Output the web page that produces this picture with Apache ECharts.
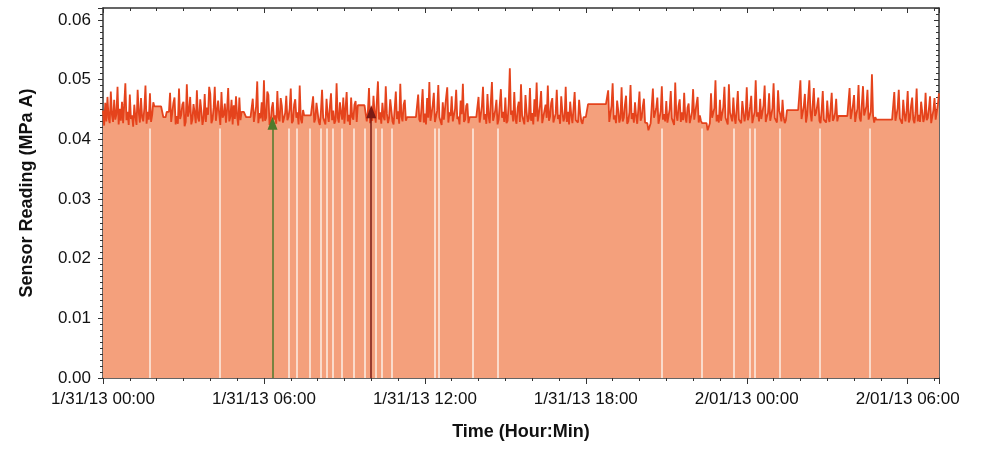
<!DOCTYPE html>
<html>
<head>
<meta charset="utf-8">
<script src="https://cdn.jsdelivr.net/npm/echarts@6/dist/echarts.min.js"></script>
<style>
html,body{margin:0;padding:0;background:#fff;}
#chart{width:997px;height:453px;}
</style>
</head>
<body>
<div id="chart"></div>
<script>
// ---- data ----
const startHour = 0;          // 1/31/13 00:00
const stepMinutes = 2.5;      // sampling step of the readings below
const endHour = 31.1667;      // 2/01/13 07:10
const tickLabels = ["1/31/13 00:00","1/31/13 06:00","1/31/13 12:00","1/31/13 18:00","2/01/13 00:00","2/01/13 06:00"];
const yTickValues = [0.00,0.01,0.02,0.03,0.04,0.05,0.06];

// one row per hour (24 readings per hour)
const readings = [
 0.0448,0.0423,0.0461,0.0430,0.0471,0.0436, 0.0427,0.0480,0.0441,0.0429,0.0466,0.0433, 0.0442,0.0488,0.0425,0.0451,0.0431,0.0463, 0.0427,0.0458,0.0494,0.0432,0.0446,0.0424,
 0.0475,0.0434,0.0440,0.0421,0.0458,0.0437, 0.0424,0.0483,0.0445,0.0428,0.0469,0.0437, 0.0430,0.0452,0.0490,0.0426,0.0446,0.0433, 0.0477,0.0429,0.0441,0.0462,0.0455,0.0455,
 0.0455,0.0455,0.0455,0.0455,0.0455,0.0455, 0.0437,0.0437,0.0437,0.0446,0.0446,0.0446, 0.0478,0.0429,0.0432,0.0461,0.0470,0.0425, 0.0439,0.0426,0.0485,0.0434,0.0441,0.0458,
 0.0463,0.0422,0.0429,0.0492,0.0438,0.0447, 0.0471,0.0425,0.0433,0.0459,0.0444,0.0427, 0.0482,0.0436,0.0430,0.0467,0.0448,0.0424, 0.0435,0.0476,0.0429,0.0453,0.0441,0.0488,
 0.0476,0.0427,0.0433,0.0453,0.0488,0.0431, 0.0433,0.0465,0.0442,0.0424,0.0479,0.0436, 0.0441,0.0460,0.0428,0.0450,0.0486,0.0430, 0.0438,0.0466,0.0425,0.0457,0.0434,0.0472,
 0.0439,0.0423,0.0470,0.0432,0.0446,0.0446, 0.0446,0.0446,0.0437,0.0437,0.0437,0.0437, 0.0437,0.0437,0.0468,0.0429,0.0432,0.0455, 0.0497,0.0427,0.0444,0.0435,0.0462,0.0430,
 0.0499,0.0431,0.0436,0.0480,0.0474,0.0424, 0.0428,0.0452,0.0462,0.0433,0.0440,0.0426, 0.0481,0.0437,0.0430,0.0469,0.0456,0.0428, 0.0426,0.0444,0.0473,0.0432,0.0438,0.0451,
 0.0485,0.0427,0.0431,0.0458,0.0467,0.0436, 0.0445,0.0425,0.0490,0.0434,0.0427,0.0449, 0.0440,0.0440,0.0440,0.0440,0.0440,0.0440, 0.0440,0.0440,0.0472,0.0428,0.0435,0.0461,
 0.0459,0.0430,0.0424,0.0447,0.0483,0.0436, 0.0439,0.0425,0.0468,0.0441,0.0429,0.0455, 0.0477,0.0432,0.0448,0.0426,0.0431,0.0494, 0.0437,0.0428,0.0462,0.0444,0.0433,0.0470,
 0.0426,0.0451,0.0479,0.0430,0.0441,0.0424, 0.0470,0.0437,0.0433,0.0458,0.0464,0.0429, 0.0457,0.0457,0.0457,0.0457,0.0457,0.0457, 0.0457,0.0457,0.0430,0.0446,0.0486,0.0427,
 0.0440,0.0431,0.0473,0.0445,0.0428,0.0463, 0.0497,0.0433,0.0445,0.0426,0.0461,0.0438, 0.0432,0.0489,0.0443,0.0427,0.0436,0.0467, 0.0468,0.0430,0.0425,0.0452,0.0480,0.0434,
 0.0447,0.0426,0.0493,0.0438,0.0430,0.0458, 0.0466,0.0431,0.0437,0.0437,0.0437,0.0437, 0.0437,0.0437,0.0437,0.0437,0.0437,0.0437, 0.0475,0.0433,0.0429,0.0454,0.0484,0.0428,
 0.0443,0.0425,0.0469,0.0436,0.0496,0.0431, 0.0434,0.0457,0.0478,0.0429,0.0426,0.0448, 0.0491,0.0437,0.0440,0.0424,0.0462,0.0433, 0.0431,0.0470,0.0487,0.0428,0.0445,0.0439,
 0.0472,0.0430,0.0428,0.0451,0.0483,0.0434, 0.0438,0.0425,0.0465,0.0442,0.0493,0.0429, 0.0433,0.0456,0.0460,0.0427,0.0437,0.0437, 0.0437,0.0437,0.0437,0.0437,0.0437,0.0437,
 0.0471,0.0428,0.0430,0.0455,0.0488,0.0433, 0.0442,0.0426,0.0476,0.0439,0.0427,0.0463, 0.0496,0.0431,0.0439,0.0449,0.0466,0.0425, 0.0433,0.0458,0.0484,0.0436,0.0446,0.0429,
 0.0470,0.0427,0.0431,0.0459,0.0519,0.0441, 0.0448,0.0430,0.0479,0.0434,0.0426,0.0452, 0.0463,0.0429,0.0492,0.0440,0.0437,0.0425, 0.0474,0.0446,0.0429,0.0435,0.0486,0.0431,
 0.0444,0.0425,0.0467,0.0438,0.0495,0.0430, 0.0432,0.0457,0.0481,0.0427,0.0425,0.0448, 0.0458,0.0436,0.0490,0.0431,0.0438,0.0461, 0.0469,0.0428,0.0429,0.0443,0.0483,0.0434,
 0.0441,0.0426,0.0472,0.0447,0.0430,0.0436, 0.0488,0.0429,0.0446,0.0425,0.0463,0.0440, 0.0427,0.0452,0.0479,0.0432,0.0435,0.0428, 0.0466,0.0444,0.0430,0.0426,0.0437,0.0437,
 0.0437,0.0437,0.0459,0.0459,0.0459,0.0459, 0.0459,0.0459,0.0459,0.0459,0.0459,0.0459, 0.0459,0.0459,0.0459,0.0459,0.0459,0.0459, 0.0459,0.0459,0.0482,0.0429,0.0431,0.0456,
 0.0494,0.0433,0.0440,0.0427,0.0465,0.0448, 0.0428,0.0436,0.0487,0.0430,0.0436,0.0458, 0.0473,0.0426,0.0430,0.0445,0.0491,0.0434, 0.0444,0.0428,0.0462,0.0439,0.0426,0.0451,
 0.0480,0.0431,0.0437,0.0455,0.0468,0.0428, 0.0427,0.0427,0.0415,0.0415,0.0427,0.0427, 0.0485,0.0436,0.0433,0.0452,0.0470,0.0426, 0.0429,0.0447,0.0489,0.0433,0.0442,0.0430,
 0.0464,0.0428,0.0426,0.0450,0.0481,0.0435, 0.0438,0.0424,0.0495,0.0441,0.0431,0.0456, 0.0467,0.0429,0.0445,0.0432,0.0478,0.0437, 0.0428,0.0453,0.0460,0.0427,0.0436,0.0446,
 0.0484,0.0433,0.0432,0.0459,0.0471,0.0428, 0.0440,0.0431,0.0427,0.0427,0.0427,0.0427, 0.0427,0.0415,0.0415,0.0427,0.0477,0.0436, 0.0434,0.0452,0.0499,0.0430,0.0441,0.0428,
 0.0466,0.0431,0.0429,0.0454,0.0488,0.0436, 0.0437,0.0425,0.0492,0.0445,0.0443,0.0430, 0.0470,0.0438,0.0426,0.0451,0.0481,0.0433, 0.0435,0.0427,0.0464,0.0447,0.0430,0.0441,
 0.0487,0.0432,0.0439,0.0455,0.0473,0.0427, 0.0428,0.0446,0.0499,0.0438,0.0445,0.0430, 0.0468,0.0434,0.0432,0.0457,0.0490,0.0429, 0.0438,0.0444,0.0477,0.0431,0.0429,0.0452,
 0.0494,0.0436,0.0436,0.0428,0.0482,0.0448, 0.0441,0.0430,0.0466,0.0437,0.0427,0.0432, 0.0449,0.0449,0.0449,0.0449,0.0449,0.0449, 0.0449,0.0449,0.0449,0.0449,0.0449,0.0449,
 0.0499,0.0434,0.0433,0.0455,0.0476,0.0428, 0.0440,0.0437,0.0499,0.0445,0.0430,0.0427, 0.0486,0.0439,0.0444,0.0456,0.0470,0.0431, 0.0427,0.0448,0.0481,0.0433,0.0436,0.0428,
 0.0465,0.0437,0.0429,0.0452,0.0478,0.0431, 0.0435,0.0444,0.0468,0.0430,0.0439,0.0439, 0.0439,0.0439,0.0439,0.0439,0.0439,0.0439, 0.0439,0.0439,0.0486,0.0434,0.0432,0.0457,
 0.0474,0.0429,0.0442,0.0451,0.0491,0.0436, 0.0430,0.0427,0.0489,0.0440,0.0438,0.0455, 0.0483,0.0433,0.0431,0.0446,0.0509,0.0440, 0.0428,0.0437,0.0433,0.0433,0.0433,0.0433,
 0.0433,0.0433,0.0433,0.0433,0.0433,0.0433, 0.0433,0.0433,0.0433,0.0433,0.0433,0.0433, 0.0479,0.0431,0.0428,0.0452,0.0483,0.0435, 0.0437,0.0426,0.0466,0.0442,0.0430,0.0448,
 0.0481,0.0428,0.0434,0.0456,0.0470,0.0433, 0.0427,0.0445,0.0485,0.0430,0.0441,0.0429, 0.0463,0.0446,0.0429,0.0437,0.0478,0.0432, 0.0436,0.0452,0.0472,0.0427,0.0428,0.0449,
 0.0469,0.0433,0.0435,0.0458,0.0477
];

// pale gaps in the filled area (hours since 1/31/13 00:00)
const gapHours = [1.75,4.36,6.93,7.23,7.72,8.11,8.34,8.57,8.90,9.36,9.77,10.15,10.40,10.77,
                  12.37,12.52,13.79,14.72,20.83,22.33,23.52,24.11,24.30,25.23,26.72,28.59];
const gapTop = 0.0418;

// event arrows
const eventHours  = [6.32, 10.00];
const eventLevels = [0.0427, 0.0446];

// ---- chart ----
const series0 = readings.map((v,i)=>[startHour + i*stepMinutes/60, v]);
const chart = echarts.init(document.getElementById('chart'), null, {renderer:'canvas'});
const FONT = '"Liberation Sans", Arial, sans-serif';
const axisCol = '#333';

const gapLines = gapHours.map(h=>[{coord:[h,0]},{coord:[h,gapTop]}]);
const arrowCols = ['#4f7a2c','#7a1a14'];
const arrowLines = eventHours.map((h,i)=>[
  {coord:[h,0], lineStyle:{color:arrowCols[i]}},
  {coord:[h,eventLevels[i]]}
]);

chart.setOption({
  animation:false,
  grid:{left:103,right:58,top:8,bottom:75,containLabel:false},
  xAxis:[{
    type:'value', min:0, max:endHour, interval:6,
    name:'Time (Hour:Min)', nameLocation:'middle', nameGap:45,
    nameTextStyle:{fontFamily:FONT,fontSize:18,fontWeight:'bold',color:'#111'},
    axisLine:{onZero:false,lineStyle:{color:axisCol,width:1.5}},
    axisTick:{show:true,length:6,lineStyle:{color:axisCol}},
    minorTick:{show:true,splitNumber:6,length:3,lineStyle:{color:axisCol}},
    splitLine:{show:false},
    axisLabel:{fontFamily:FONT,fontSize:17,color:'#111',margin:13,
      formatter:v=>{const k=Math.round(v/6); return Math.abs(v-k*6)<1e-6 && tickLabels[k]!==undefined ? tickLabels[k] : '';}}
  },{
    type:'value', position:'top', min:0, max:endHour, interval:6,
    axisLine:{show:true,onZero:false,lineStyle:{color:axisCol,width:1.5}},
    axisTick:{show:true,inside:true,length:5,lineStyle:{color:axisCol}},
    minorTick:{show:true,splitNumber:6,length:3,lineStyle:{color:axisCol}},
    splitLine:{show:false}, axisLabel:{show:false}
  }],
  yAxis:[{
    type:'value', min:0, max:0.062, interval:0.01,
    name:'Sensor Reading (MPa A)', nameLocation:'middle', nameGap:67, nameRotate:90,
    nameTextStyle:{fontFamily:FONT,fontSize:18,fontWeight:'bold',color:'#111'},
    axisLine:{show:true,onZero:false,lineStyle:{color:axisCol,width:1.5}},
    axisTick:{show:true,length:5,lineStyle:{color:axisCol}},
    minorTick:{show:true,splitNumber:10,length:3,lineStyle:{color:axisCol}},
    splitLine:{show:false},
    axisLabel:{fontFamily:FONT,fontSize:17,color:'#111',margin:12,
      formatter:v=>{const k=Math.round(v*100); return (Math.abs(v-k/100)<1e-9 && yTickValues.indexOf(k/100)>=0) ? (k/100).toFixed(2) : '';}}
  },{
    type:'value', position:'right', min:0, max:0.062, interval:0.01,
    axisLine:{show:true,onZero:false,lineStyle:{color:axisCol,width:1.5}},
    axisTick:{show:true,inside:true,length:5,lineStyle:{color:axisCol}},
    minorTick:{show:true,splitNumber:10,length:3,lineStyle:{color:axisCol}},
    splitLine:{show:false}, axisLabel:{show:false}
  }],
  series:[{
    type:'line', xAxisIndex:0, yAxisIndex:0, data:series0, sampling:null,
    symbol:'none', showSymbol:false,
    lineStyle:{color:'#e5431c',width:1.8},
    areaStyle:{color:'#f4a07c',opacity:1},
    markLine:{silent:true, symbol:['none','none'], animation:false,
      label:{show:false},
      lineStyle:{color:'#fbe2d4',width:1.8,type:'solid'},
      emphasis:{disabled:true},
      data:gapLines}
  },{
    type:'line', xAxisIndex:0, yAxisIndex:0, data:[], z:5,
    markLine:{silent:true, symbol:['none','triangle'], symbolSize:[10,13], animation:false,
      label:{show:false},
      lineStyle:{width:1.5,type:'solid'},
      emphasis:{disabled:true},
      data:arrowLines}
  }]
});
</script>
</body>
</html>
